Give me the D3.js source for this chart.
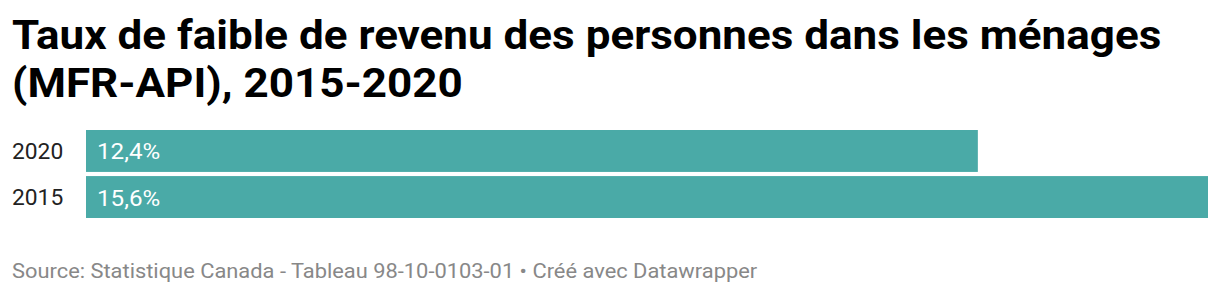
<!DOCTYPE html>
<html><head><meta charset="utf-8">
<script src="https://cdn.jsdelivr.net/npm/d3@7"></script>
<style>body{margin:0;background:#fff;}svg{display:block;}</style>
</head><body>
<script>
const categories = ["2020", "2015"];
const values = [12.4, 15.6];
const valueLabels = ["12,4%", "15,6%"];
const titleLines = ["Taux de faible de revenu des personnes dans les ménages", "(MFR-API), 2015-2020"];
const sourceText = "Source: Statistique Canada - Tableau 98-10-0103-01 • Créé avec Datawrapper";

const W = 1220, H = 294;
const svg = d3.select("body").append("svg").attr("width", W).attr("height", H);
const font = "Roboto, sans-serif";

// horizontal stretch to match reference glyph widths
function stretch(sel, k) {
  sel.each(function() {
    const len = this.getComputedTextLength();
    d3.select(this).attr("textLength", len * k).attr("lengthAdjust", "spacingAndGlyphs");
  });
}

svg.selectAll("text.title").data(titleLines).enter().append("text")
  .attr("class", "title")
  .attr("x", 12).attr("y", (d,i) => 49 + i*48)
  .attr("font-family", font).attr("font-weight", 700).attr("font-size", 41.5)
  .attr("fill", "#000").text(d => d)
  .call(stretch, 1.06);

const x = d3.scaleLinear().domain([0, d3.max(values)]).range([86, 1208]);
const y = d3.scaleBand().domain(categories).range([130, 218]).paddingInner(0.09);

const g = svg.append("g");
g.selectAll("rect").data(categories).enter().append("rect")
  .attr("x", x(0)).attr("y", d => y(d))
  .attr("width", (d,i) => x(values[i]) - x(0)).attr("height", y.bandwidth())
  .attr("fill", "#4aaaa7");

g.selectAll("text.cat").data(categories).enter().append("text")
  .attr("class", "cat")
  .attr("x", 12).attr("y", d => y(d) + y.bandwidth()/2 + 8)
  .attr("font-family", font).attr("font-size", 22).attr("fill", "#222")
  .text(d => d)
  .call(stretch, 1.035);

g.selectAll("text.val").data(categories).enter().append("text")
  .attr("class", "val")
  .attr("x", x(0) + 11).attr("y", d => y(d) + y.bandwidth()/2 + 8.5)
  .attr("font-family", font).attr("font-size", 22).attr("fill", "#fff")
  .text((d,i) => valueLabels[i])
  .call(stretch, 1.10);

svg.append("text").attr("x", 12).attr("y", 278)
  .attr("font-family", font).attr("font-size", 20).attr("fill", "#888")
  .text(sourceText)
  .call(stretch, 1.093);
</script>
</body></html>
